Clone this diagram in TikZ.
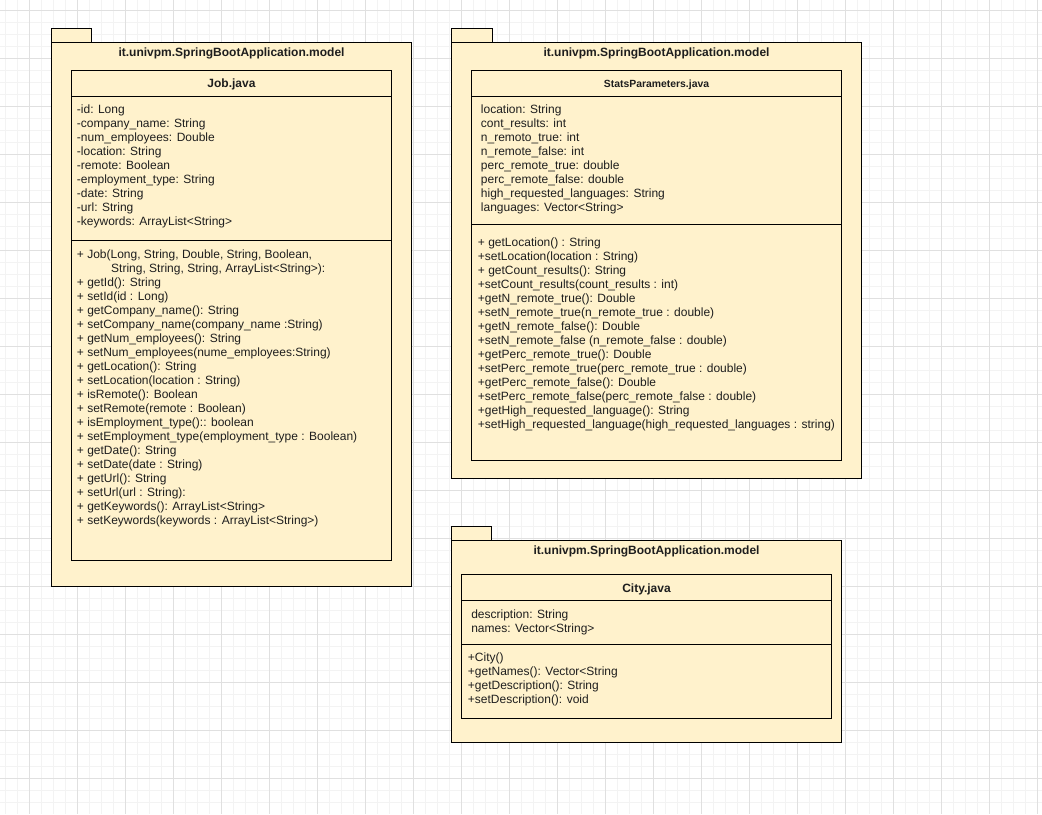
\documentclass[tikz,border=0pt]{standalone}
\usepackage{fontspec}
\setmainfont{Liberation Sans}
\usetikzlibrary{calc}
\definecolor{umlfill}{HTML}{FFF2CC}
\definecolor{gridmajor}{HTML}{E0E0E0}
\definecolor{gridminor}{HTML}{F3F3F3}
\definecolor{umltext}{HTML}{1E1E1E}

\begin{document}
\begin{tikzpicture}[x=0.75pt,y=-0.75pt,
  umlbox/.style={draw=black,fill=umlfill,line width=0.75pt},
  umlline/.style={draw=black,line width=0.75pt},
  member/.style={anchor=base west,inner sep=0pt,text=umltext,font=\fontsize{9}{10.5}\selectfont},
  umltitle/.style={anchor=base,inner sep=0pt,text=umltext,font=\bfseries\fontsize{9}{10.5}\selectfont}]
\useasboundingbox (0,0) rectangle (1042,814);
\fill[white] (0,0) rectangle (1042,814);
% grid
\foreach \x in {5.3,17.3,...,1042} \draw[gridminor,line width=0.75pt] (\x,0) -- (\x,814);
\foreach \y in {10.3,22.3,...,814} \draw[gridminor,line width=0.75pt] (0,\y) -- (1042,\y);
\foreach \x in {29.3,77.3,...,1042} \draw[gridmajor,line width=0.75pt] (\x,0) -- (\x,814);
\foreach \y in {10.3,58.3,...,814} \draw[gridmajor,line width=0.75pt] (0,\y) -- (1042,\y);

% package Job
\draw[umlbox] (51.5,28.5) rectangle (91.5,42.5);
\draw[umlbox] (51.5,42.5) rectangle (411.5,586);
\node[umltitle] (pkgJob) at (231.5,56.6) {it.univpm.SpringBootApplication.model};
\draw[umlbox] (71.5,70.5) rectangle (391.5,560.5);
\draw[umlline] (71.5,96.5) -- (391.5,96.5);
\draw[umlline] (71.5,240.5) -- (391.5,240.5);
\node[umltitle] (jobName) at (231.5,87.6) {Job.java};
\foreach \t [count=\i from 0] in {-id: Long,-company\_name: String,-num\_employees: Double,-location: String,-remote: Boolean,-employment\_type: String,-date: String,-url: String,-keywords: ArrayList<String>}
  \node[member] (jobAttr\i) at (76.7,113.6+14*\i) {\t};
\foreach \t [count=\i from 0] in {{+ Job(Long, String, Double, String, Boolean,},{\hspace*{25.7pt}String, String, String, ArrayList<String>):},+ getId(): String,+ setId(id : Long),+ getCompany\_name(): String,+ setCompany\_name(company\_name :String),+ getNum\_employees(): String,+ setNum\_employees(nume\_employees:String),+ getLocation(): String,+ setLocation(location : String),+ isRemote(): Boolean,+ setRemote(remote : Boolean),+ isEmployment\_type():: boolean,+ setEmployment\_type(employment\_type : Boolean),+ getDate(): String,+ setDate(date : String),+ getUrl(): String,+ setUrl(url : String):,+ getKeywords(): ArrayList<String>,+ setKeywords(keywords : ArrayList<String>)}
  \node[member] (jobOp\i) at (76.7,258.3+14*\i) {\t};

% package StatsParameters
\draw[umlbox] (451.5,28.5) rectangle (492.5,42.5);
\draw[umlbox] (451.5,42.5) rectangle (861.5,478.5);
\node[umltitle] (pkgStats) at (656.5,56.6) {it.univpm.SpringBootApplication.model};
\draw[umlbox] (471.5,70.5) rectangle (841.5,460.5);
\draw[umlline] (471.5,96.5) -- (841.5,96.5);
\draw[umlline] (471.5,224.5) -- (841.5,224.5);
\node[umltitle,font=\bfseries\fontsize{7.8}{9}\selectfont] (statsName) at (656.5,87.1) {StatsParameters.java};
\foreach \t [count=\i from 0] in {location: String,cont\_results: int,n\_remoto\_true: int,n\_remote\_false: int,perc\_remote\_true: double,perc\_remote\_false: double,high\_requested\_languages: String,languages: Vector<String>}
  \node[member] (statsAttr\i) at (480.7,113.6+14*\i) {\t};
\foreach \t [count=\i from 0] in {+ getLocation() : String,+setLocation(location : String),+ getCount\_results(): String,+setCount\_results(count\_results : int),+getN\_remote\_true(): Double,+setN\_remote\_true(n\_remote\_true : double),+getN\_remote\_false(): Double,+setN\_remote\_false (n\_remote\_false : double),+getPerc\_remote\_true(): Double,+setPerc\_remote\_true(perc\_remote\_true : double),+getPerc\_remote\_false(): Double,+setPerc\_remote\_false(perc\_remote\_false : double),+getHigh\_requested\_language(): String,+setHigh\_requested\_language(high\_requested\_languages : string)}
  \node[member] (statsOp\i) at (477.7,246+14*\i) {\t};

% package City
\draw[umlbox] (451.5,526.5) rectangle (491.5,540.5);
\draw[umlbox] (451.5,540.5) rectangle (841.5,742.5);
\node[umltitle] (pkgCity) at (646.5,554.6) {it.univpm.SpringBootApplication.model};
\draw[umlbox] (461.5,574.5) rectangle (831.5,718.5);
\draw[umlline] (461.5,600.5) -- (831.5,600.5);
\draw[umlline] (461.5,644.5) -- (831.5,644.5);
\node[umltitle] (cityName) at (646.5,592.6) {City.java};
\foreach \t [count=\i from 0] in {description: String,names: Vector<String>}
  \node[member] (cityAttr\i) at (471,618.3+14*\i) {\t};
\foreach \t [count=\i from 0] in {+City(),+getNames(): Vector<String,+getDescription(): String,+setDescription(): void}
  \node[member] (cityOp\i) at (467.7,661+14*\i) {\t};
\end{tikzpicture}
\end{document}
